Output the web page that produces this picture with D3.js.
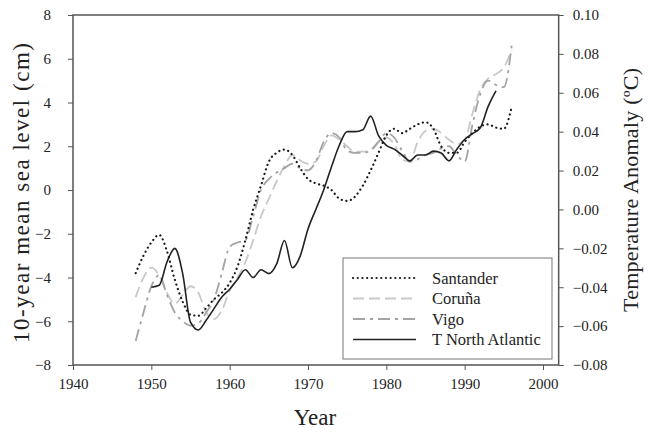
<!DOCTYPE html>
<html>
<head>
<meta charset="utf-8">
<script src="https://cdn.jsdelivr.net/npm/d3@7"></script>
<style>
  body { margin: 0; background: #fff; }
  svg text { font-family: "Liberation Serif", "Times New Roman", serif; fill: #222; }
</style>
</head>
<body>
<svg id="chart" width="654" height="432"></svg>
<script>
// sea level series (cm), one value per year
var seaYears = d3.range(1948, 1997);
var santander = [-3.8, -3.0, -2.4, -2.05, -2.8, -4.1, -5.1, -5.7, -5.75, -5.4, -5.0, -4.7, -4.25, -3.5,
  -2.3, -0.9, 0.2, 1.3, 1.7, 1.85, 1.6, 1.0, 0.5, 0.3, 0.2, 0.0, -0.4, -0.5, -0.3, 0.2, 0.9, 1.7,
  2.5, 2.8, 2.6, 2.8, 3.0, 3.1, 2.8, 2.0, 1.7, 1.7, 2.2, 2.6, 2.9, 3.0, 2.85, 2.8, 3.8];
var coruna = [-4.9, -4.0, -3.55, -3.9, -4.7, -5.2, -4.8, -4.4, -4.7, -5.6, -5.9, -5.5, -4.6, -4.0,
  -3.3, -2.3, -1.2, -0.4, 0.4, 1.1, 1.6, 1.35, 1.2, 1.3, 2.0, 2.5, 2.3, 2.0, 1.75, 1.75, 1.85, 2.2,
  2.4, 2.1, 1.4, 1.3, 2.2, 2.7, 2.8, 2.6, 2.3, 2.1, 2.3, 3.5, 4.6, 5.1, 5.3, 5.6, 6.4];
var vigo = [-6.9, -5.6, -4.4, -3.9, -4.8, -5.6, -6.0, -6.2, -6.1, -5.6, -5.0, -3.8, -2.6, -2.4,
  -2.3, -1.2, 0.0, 0.5, 0.8, 1.0, 1.2, 1.0, 0.9, 1.3, 2.2, 2.6, 2.4, 1.8, 1.7, 1.7, 1.8, 2.2,
  2.6, 2.4, 1.8, 1.3, 1.4, 1.6, 1.7, 1.9, 2.0, 1.6, 1.3, 3.0, 4.4, 5.0, 4.8, 4.7, 6.6];

// temperature anomaly (ºC)
var tempYears = [1950, 1951, 1952, 1953, 1954, 1955, 1956, 1957, 1958, 1959, 1960, 1961, 1962,
  1963, 1964, 1965, 1966, 1967, 1968, 1969, 1970, 1971, 1972, 1973, 1974, 1975, 1976, 1977, 1978,
  1979, 1980, 1981, 1982, 1983, 1984, 1985, 1986, 1987, 1988, 1989, 1990, 1991, 1992, 1993, 1994];
var tempNA = [-0.040, -0.039, -0.027, -0.020, -0.033, -0.058, -0.062, -0.057, -0.051, -0.045,
  -0.041, -0.036, -0.031, -0.035, -0.031, -0.033, -0.028, -0.016, -0.030, -0.024, -0.010, 0.000,
  0.010, 0.022, 0.033, 0.040, 0.040, 0.041, 0.048, 0.038, 0.033, 0.031, 0.028, 0.025, 0.028,
  0.028, 0.030, 0.029, 0.025, 0.031, 0.036, 0.039, 0.042, 0.053, 0.061];

var xTicks = d3.range(1940, 2001, 10);
var leftTicks = d3.range(-8, 9, 2);
var rightTicks = d3.range(-0.08, 0.1001, 0.02);

var legendItems = [
  { name: "Santander", cls: "santander" },
  { name: "Coruña", cls: "coruna" },
  { name: "Vigo", cls: "vigo" },
  { name: "T North Atlantic", cls: "temp" }
];

var styles = {
  santander: { stroke: "#1a1a1a", width: 2.2, dash: "0.1,4.6", cap: "round" },
  coruna: { stroke: "#c9c9c9", width: 1.8, dash: "11,5", cap: "butt" },
  vigo: { stroke: "#a3a3a3", width: 1.8, dash: "12,5,3,5", cap: "butt" },
  temp: { stroke: "#222", width: 1.6, dash: null, cap: "butt" }
};

var svg = d3.select("#chart");
var plotLeft = 73, plotTop = 15, plotBottom = 365;

// 1940 sits on the left axis, 2000 at x=543, frame runs to 2002
var x = d3.scaleLinear().domain([1940, 2002]).range([plotLeft, plotLeft + (543 - plotLeft) * 62 / 60]);
var plotRight = x(2002);
var yL = d3.scaleLinear().domain([-8, 8]).range([plotBottom, plotTop]);
var yR = d3.scaleLinear().domain([-0.08, 0.10]).range([plotBottom, plotTop]);

function fmtR(d) { return d3.format(".2f")(Math.abs(d) < 1e-9 ? 0 : d); }

var axisFont = 15;
var gx = svg.append("g").attr("transform", "translate(0," + plotBottom + ")")
  .call(d3.axisBottom(x).tickValues(xTicks).tickFormat(d3.format("d")).tickSize(5).tickPadding(8));
var gl = svg.append("g").attr("transform", "translate(" + plotLeft + ",0)")
  .call(d3.axisLeft(yL).tickValues(leftTicks).tickSize(5).tickPadding(17));
var gr = svg.append("g").attr("transform", "translate(" + plotRight + ",0)")
  .call(d3.axisRight(yR).tickValues(rightTicks).tickFormat(fmtR).tickSize(5).tickPadding(9));

[gx, gl, gr].forEach(function(g) {
  g.select(".domain").remove();
  g.selectAll("line").attr("stroke", "#555");
  g.selectAll("text").style("font-size", axisFont + "px")
    .style("font-family", "'Liberation Serif', serif").attr("fill", "#222");
});

// frame
svg.append("rect")
  .attr("x", plotLeft).attr("y", plotTop)
  .attr("width", plotRight - plotLeft).attr("height", plotBottom - plotTop)
  .attr("fill", "none").attr("stroke", "#555").attr("stroke-width", 1.5);

var lineL = d3.line().curve(d3.curveMonotoneX)
  .x(function(d) { return x(d[0]); }).y(function(d) { return yL(d[1]); });
var lineR = d3.line().curve(d3.curveMonotoneX)
  .x(function(d) { return x(d[0]); }).y(function(d) { return yR(d[1]); });

function styled(sel, key) {
  var s = styles[key];
  sel.attr("fill", "none").attr("stroke", s.stroke).attr("stroke-width", s.width)
    .attr("stroke-linecap", s.cap);
  if (s.dash) sel.attr("stroke-dasharray", s.dash);
  return sel;
}

var plot = svg.append("g");
styled(plot.append("path").attr("d", lineL(d3.zip(seaYears, coruna))), "coruna");
styled(plot.append("path").attr("d", lineL(d3.zip(seaYears, vigo))), "vigo");
styled(plot.append("path").attr("d", lineR(d3.zip(tempYears, tempNA))), "temp");
styled(plot.append("path").attr("d", lineL(d3.zip(seaYears, santander))), "santander");

// legend
var lg = svg.append("g");
lg.append("rect").attr("x", 343).attr("y", 258).attr("width", 209).attr("height", 101)
  .attr("fill", "#fff").attr("stroke", "#777").attr("stroke-width", 1);
legendItems.forEach(function(item, i) {
  var yy = 278 + i * 20.5;
  styled(lg.append("line").attr("x1", 353).attr("x2", 416).attr("y1", yy).attr("y2", yy), item.cls);
  lg.append("text").attr("x", 432).attr("y", yy + 5.5).style("font-size", "16.5px").text(item.name);
});

// axis titles
svg.append("text")
  .attr("transform", "translate(29,193) rotate(-90)")
  .attr("text-anchor", "middle").style("font-size", "23px")
  .attr("textLength", 300)
  .text("10-year mean sea level (cm)");
svg.append("text")
  .attr("transform", "translate(638,190) rotate(-90)")
  .attr("text-anchor", "middle").style("font-size", "22px")
  .attr("textLength", 244)
  .text("Temperature Anomaly (ºC)");
svg.append("text")
  .attr("x", 315).attr("y", 425)
  .attr("text-anchor", "middle").style("font-size", "23px")
  .text("Year");
</script>
</body>
</html>
